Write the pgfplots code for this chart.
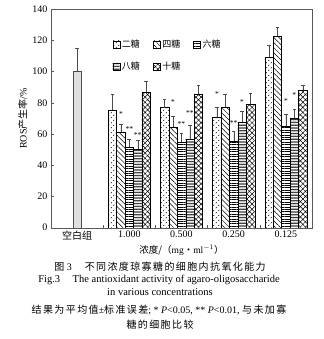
\documentclass[border=0pt]{standalone}
\usepackage{fontspec}
\setmainfont{Liberation Serif}
\newfontfamily\cjk{Noto Sans CJK SC}
\newfontfamily\cjksp{Noto Sans CJK SC}[LetterSpace=14]
\usepackage{pgfplots}
\usepackage{pgfplotstable}
\pgfplotsset{compat=1.18}
\usetikzlibrary{patterns.meta}

\tikzdeclarepattern{
  name=sdots, type=uncolored,
  bottom left={(-0.5pt,-0.5pt)}, top right={(5.5pt,5.5pt)},
  tile size={(5pt,5pt)},
  code={\draw[line width=0.55pt] (0.8pt,0.8pt)--(1.8pt,1.6pt) (3.3pt,3.3pt)--(4.3pt,4.1pt);}
}
\tikzdeclarepattern{
  name=zigzag, type=uncolored,
  bottom left={(-0.5pt,-0.5pt)}, top right={(4.5pt,3.5pt)},
  tile size={(4pt,2.8pt)},
  code={\draw[line width=0.5pt] (0pt,0.4pt)--(1pt,1.6pt)--(2pt,0.4pt)--(3pt,1.6pt)--(4pt,0.4pt);}
}

% x positions: group centre (0..4) plus the bar offset inside the group
\pgfplotstableread{
x y e
0 100 15
}\tBlank
\pgfplotstableread{
x y e
0.678 75.5 10
1.678 77.0 5.3
2.678 70.7 6.4
3.678 109.6 7.5
}\tA
\pgfplotstableread{
x y e
0.839 61.5 5
1.839 64.7 7
2.839 77.5 8
3.839 122.8 5.6
}\tB
\pgfplotstableread{
x y e
1 51.5 5.5
2 55.0 5.5
3 55.5 6.5
4 65.0 8
}\tC
\pgfplotstableread{
x y e
1.161 50.5 5.5
2.161 56.8 9
3.161 67.5 7
4.161 70.5 5.5
}\tD
\pgfplotstableread{
x y e
1.322 86.7 7.5
2.322 85.8 5.5
3.322 79.2 7
4.322 88.0 3.3
}\tE
\pgfplotstableread{
x y lab
0.839 73.0 *
1.000 63.0 **
1.161 59.5 **
1.839 80.7 *
2.000 66.4 **
2.161 73.7 **
2.678 85.5 *
3.000 67.0 **
3.161 80.7 *
4.000 81.4 *
4.161 85.0 *
}\tStars

\pgfplotsset{
  mybar/.style={ybar, bar width=8.4pt, bar shift=0pt, draw=black, line width=0.4pt,
    error bars/.cd, y dir=plus, y explicit,
    error bar style={line width=0.4pt, black!70},
    error mark options={rotate=90, line width=0.4pt, black!70, mark size=1.8pt},
    /pgfplots/.cd,
    legend image code/.code={\draw[##1, line width=0.4pt] (0pt,-3.5pt) rectangle (7pt,3.5pt);}},
}

\begin{document}
\begin{tikzpicture}
\begin{axis}[
  scale only axis, width=261pt, height=218.4pt,
  xmin=-0.5, xmax=4.5, ymin=0, ymax=140,
  ytick={0,20,...,140},
  xtick={0,1,2,3,4},
  xticklabels={{\cjk 空白组},1.000,0.500,0.250,0.125},
  major x tick style={draw=none},
  minor xtick={0.5,1.5,2.5,3.5},
  minor tick length=2.5pt, major tick length=2.5pt,
  tick align=inside, ytick pos=left, xtick pos=bottom,
  axis line style={black!65}, every tick/.style={black!65},
  tick label style={font=\fontsize{10}{12}\selectfont},
  /pgf/number format/assume math mode=true,
  ylabel={ROS{\cjk 产生率}/\%},
  ylabel style={font=\fontsize{10}{12}\selectfont, yshift=-2pt},
  xlabel={{\cjk 浓度/（}mg{\cjk ·}ml$^{-1}${\cjk ）}},
  xlabel style={font=\fontsize{9.5}{11}\selectfont, yshift=2pt},
  legend columns=3,
  legend style={draw=none, fill=none, inner sep=0pt,
    at={(rel axis cs:0.235,0.87)}, anchor=north west,
    font=\cjk\fontsize{9}{10}\selectfont, row sep=9pt,
    /tikz/every even column/.append style={column sep=11pt}},
]
\addplot[mybar, fill=gray!25, draw=black!70, forget plot] table[x=x,y=y,y error=e] {\tBlank};
\addplot[mybar, pattern=sdots] table[x=x,y=y,y error=e] {\tA};
\addlegendentry{二糖}
\addplot[mybar, pattern={Lines[angle=-45,distance=3.6pt,line width=0.5pt]}] table[x=x,y=y,y error=e] {\tB};
\addlegendentry{四糖}
\addplot[mybar, pattern={Lines[angle=0,distance=2.4pt,line width=0.8pt]}] table[x=x,y=y,y error=e] {\tC};
\addlegendentry{六糖}
\addplot[mybar, pattern=zigzag] table[x=x,y=y,y error=e] {\tD};
\addlegendentry{八糖}
\addplot[mybar, pattern={Hatch[angle=45,distance=3.6pt,line width=0.5pt]}] table[x=x,y=y,y error=e] {\tE};
\addlegendentry{十糖}
\addplot[forget plot, only marks, mark=none, nodes near coords, point meta=explicit symbolic,
  nodes near coords style={anchor=center, inner sep=0pt, font=\fontsize{7.5}{8}\selectfont}]
  table[x=x,y=y,meta=lab] {\tStars};
\end{axis}
\node[font=\fontsize{10}{12}\selectfont] at ([xshift=109pt,yshift=-39.3pt]current axis.south west)
  {{\cjk 图}~3\hspace{1.3em}{\cjksp 不同浓度琼寡糖的细胞内抗氧化能力}};
\node[font=\fontsize{10.5}{12}\selectfont] at ([xshift=108pt,yshift=-52.3pt]current axis.south west)
  {Fig.3\hspace{1.2em}The antioxidant activity of agaro-oligosaccharide};
\node[font=\fontsize{10.5}{12}\selectfont] at ([xshift=109pt,yshift=-64.3pt]current axis.south west)
  {in various concentrations};
\node[font=\fontsize{10}{12}\selectfont] at ([xshift=108pt,yshift=-82.3pt]current axis.south west)
  {{\cjksp 结果为平均值}±{\cjksp 标准误差}; * \textit{P}<0.05, ** \textit{P}<0.01, {\cjksp 与未加寡}};
\node[font=\fontsize{10}{12}\selectfont] at ([xshift=109pt,yshift=-97.3pt]current axis.south west)
  {{\cjksp 糖的细胞比较}};
\path ([xshift=-51pt,yshift=-111.3pt]current axis.south west) rectangle ([xshift=11pt,yshift=9.3pt]current axis.north east);
\end{tikzpicture}
\end{document}
